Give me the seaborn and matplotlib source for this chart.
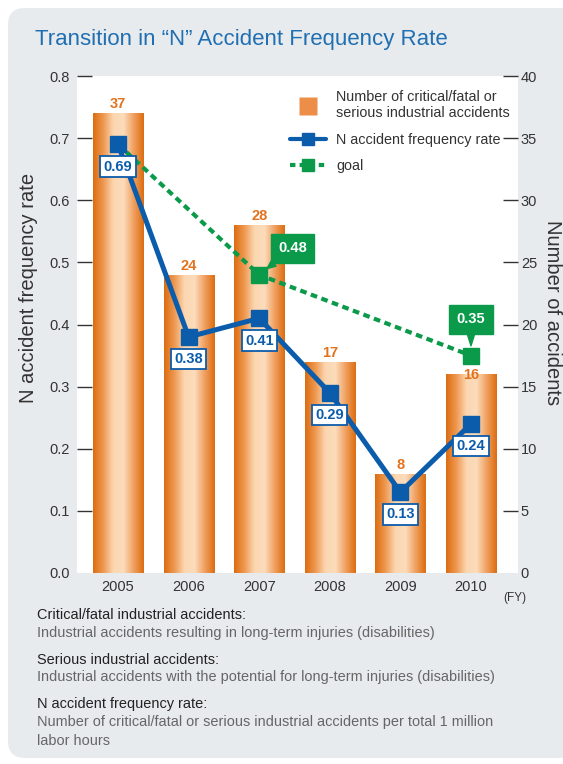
import numpy as np
import pandas as pd
import seaborn as sns
import matplotlib.pyplot as plt
from matplotlib.patches import FancyBboxPatch
from matplotlib.lines import Line2D
from matplotlib.colors import LinearSegmentedColormap

# data
years = ['2005', '2006', '2007', '2008', '2009', '2010']
accidents = [37, 24, 28, 17, 8, 16]
n_rate = [0.69, 0.38, 0.41, 0.29, 0.13, 0.24]
goal_years = ['2005', '2007', '2010']
goal_rate = [0.69, 0.48, 0.35]
goal_labels = ['', '0.48', '0.35']
rate_ticks = [0.0, 0.1, 0.2, 0.3, 0.4, 0.5, 0.6, 0.7, 0.8]
count_ticks = [0, 5, 10, 15, 20, 25, 30, 35, 40]

blue = '#0b5cab'
green = '#0a9a4a'
orange_txt = '#e2731e'
grey_txt = '#333333'

sns.set_theme(style='white')
plt.rcParams['font.family'] = ['Liberation Sans', 'DejaVu Sans']

W, H = 563, 764
fig = plt.figure(figsize=(W / 100, H / 100), dpi=100)

# grey rounded panel behind everything
fig.patches.append(FancyBboxPatch((8 / W, 1 - 758 / H), 600 / W, 750 / H,
                                  boxstyle='round,pad=0,rounding_size=0.03',
                                  transform=fig.transFigure, fc='#e8ebee', ec='none',
                                  zorder=-2, mutation_aspect=W / H))

ax = fig.add_axes([77 / W, 1 - 573 / H, 441 / W, 497 / H])
ax.set_facecolor('white')
ax2 = ax.twinx()   # rate axis, drawn on top of the bars

df = pd.DataFrame({'year': years, 'accidents': accidents})
sns.barplot(data=df, x='year', y='accidents', order=years, width=0.71,
            color='#e8843a', ax=ax, zorder=1)

# horizontal orange gradient on the bars
cmap = LinearSegmentedColormap.from_list(
    'bar', ['#dc6c10', '#ee9850', '#fbd6b0', '#fcdcbc', '#f0a060', '#dc6c10'])
grad = np.linspace(0, 1, 256)[None, :]
for p in ax.patches:
    x0, w, h = p.get_x(), p.get_width(), p.get_height()
    im = ax.imshow(grad, cmap=cmap, extent=[x0, x0 + w, 0, h], aspect='auto', zorder=1)
    im.set_clip_path(p)
    p.set_facecolor('none')
    p.set_edgecolor('none')

ax.set_xlim(-0.581, 5.666)
ax.set_ylim(0, 40)
ax.set_yticks(count_ticks)
ax.set_xlabel('')
ax.set_ylabel('')
ax.yaxis.tick_right()
ax.tick_params(axis='y', direction='in', length=11, width=1, color='#333333',
               labelsize=10.5, labelcolor=grey_txt, pad=2)
ax.tick_params(axis='x', length=0, labelsize=10.5, labelcolor=grey_txt, pad=5)
for s in ax.spines.values():
    s.set_visible(False)
ax.yaxis.get_major_ticks()[0].tick2line.set_visible(False)

# bar value labels
count_offsets = [6.5, 6.5, 6.5, 6.5, 6.5, -0.5]
for i, (v, off) in enumerate(zip(accidents, count_offsets)):
    ax.annotate(str(v), (i, v), xytext=(0, off), textcoords='offset points',
                ha='center', va='center', color=orange_txt, fontsize=10.5,
                fontweight='bold', zorder=2)

# rate axis on the left
ax2.yaxis.tick_left()
ax2.set_ylim(0, 0.8)
ax2.set_yticks(rate_ticks)
ax2.set_yticklabels([f'{t:.1f}' for t in rate_ticks])
ax2.tick_params(axis='y', direction='in', length=11, width=1, color='#333333',
                labelsize=10.5, labelcolor=grey_txt, pad=5)
ax2.yaxis.get_major_ticks()[0].tick1line.set_visible(False)
for s in ax2.spines.values():
    s.set_visible(False)

pos = {y: i for i, y in enumerate(years)}
gx = [pos[y] for y in goal_years]
ax2.plot(gx, goal_rate, color=green, lw=3, ls=(0, (1.6, 1.1)),
         marker='s', ms=11, markevery=[1, 2], zorder=3)
ax2.plot(range(len(years)), n_rate, color=blue, lw=3.6, marker='s', ms=11.5,
         zorder=4, solid_joinstyle='miter')

for i, v in enumerate(n_rate):
    ax2.annotate(f'{v:.2f}', (i, v), xytext=(0, -16), textcoords='offset points',
                 ha='center', va='center', color=blue, fontsize=10.5, fontweight='bold',
                 bbox=dict(boxstyle='square,pad=0.22', fc='white', ec=blue, lw=1.3),
                 zorder=5)

goal_offsets = [(0, 0), (24, 19), (0, 26)]
for x, v, lab, off in zip(gx, goal_rate, goal_labels, goal_offsets):
    if not lab:
        continue
    ax2.annotate(lab, (x, v), xytext=off, textcoords='offset points',
                 ha='center', va='center', color='white', fontsize=10.5,
                 fontweight='bold',
                 bbox=dict(boxstyle='square,pad=0.5', fc=green, ec=green),
                 arrowprops=dict(arrowstyle='wedge,tail_width=0.5', fc=green, ec=green,
                                 shrinkA=0, shrinkB=7),
                 zorder=5)

ax2.set_ylabel('')
ax2.set_xlim(-0.581, 5.666)

# legend
handles = [
    Line2D([], [], ls='none', marker='s', ms=12.5, mfc='#ec8e48', mec='none'),
    Line2D([], [], color=blue, lw=3, marker='s', ms=9),
    Line2D([], [], color=green, lw=3, ls=(0, (1.3, 1.0)), marker='s', ms=9),
]
labels = ['Number of critical/fatal or\nserious industrial accidents',
          'N accident frequency rate', 'goal']
ax2.legend(handles, labels, loc='upper left', bbox_to_anchor=(283 / W, 1 - 83 / H),
           bbox_transform=fig.transFigure, frameon=False, fontsize=10.4,
           handlelength=2.45, handletextpad=0.75, labelspacing=0.85, borderpad=0,
           labelcolor=grey_txt)

# texts
fig.text(35 / W, 1 - 40 / H, 'Transition in \u201cN\u201d Accident Frequency Rate',
         color='#1f6fb2', fontsize=16, va='center', ha='left')
fig.text(29 / W, 1 - 288 / H, 'N accident frequency rate', rotation=90,
         color=grey_txt, fontsize=14.5, ha='center', va='center')
fig.text(543 / W, 1 - 313 / H, 'Number of accidents', rotation=270,
         color=grey_txt, fontsize=14.5, ha='left', va='center')
fig.text(515 / W, 1 - 598 / H, '(FY)', color=grey_txt, fontsize=8.5,
         ha='center', va='center')

notes = [
    (615, 'Critical/fatal industrial accidents:', '#222222'),
    (633, 'Industrial accidents resulting in long-term injuries (disabilities)', '#666666'),
    (660, 'Serious industrial accidents:', '#222222'),
    (677, 'Industrial accidents with the potential for long-term injuries (disabilities)', '#666666'),
    (704, 'N accident frequency rate:', '#222222'),
    (722, 'Number of critical/fatal or serious industrial accidents per total 1 million', '#666666'),
    (741, 'labor hours', '#666666'),
]
for y, t, c in notes:
    fig.text(37 / W, 1 - y / H, t, color=c, fontsize=10.45, ha='left', va='center')

fig.savefig('out.png', dpi=100)
